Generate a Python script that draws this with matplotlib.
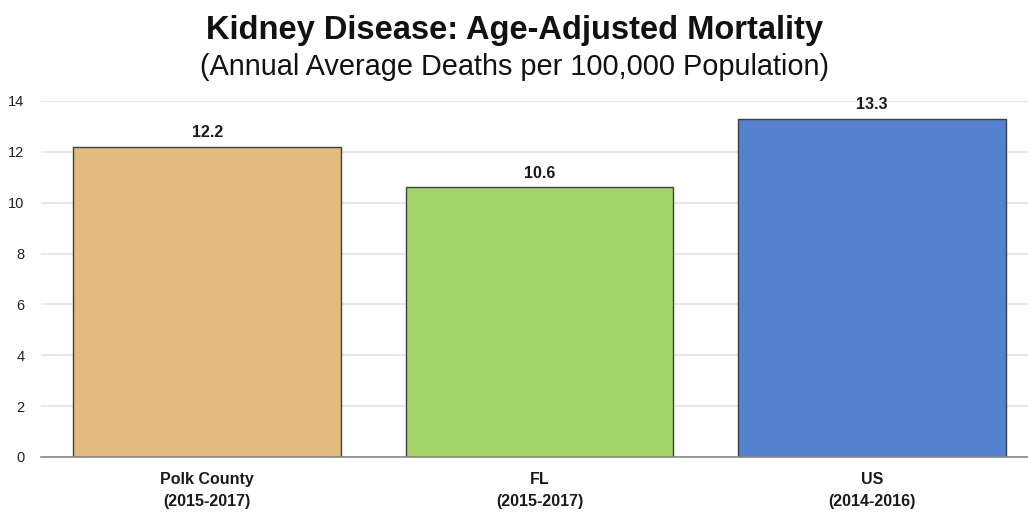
import matplotlib
matplotlib.use("Agg")
import matplotlib.pyplot as plt

categories = ["Polk County\n(2015-2017)", "FL\n(2015-2017)", "US\n(2014-2016)"]
values = [12.2, 10.6, 13.3]
colors = ["#E4BB7E", "#A3D468", "#5681D0"]
yticks = [0, 2, 4, 6, 8, 10, 12, 14]

plt.rcParams['font.family'] = ['Liberation Sans', 'DejaVu Sans']

fig = plt.figure(figsize=(10.28, 5.12), dpi=100)
ax = fig.add_axes([41/1028, (512-457)/512, (1028-41)/1028, (457-101)/512])

x = list(range(len(categories)))
ax.bar(x, values, width=0.805, color=colors, edgecolor="#404040", linewidth=1.0, zorder=3)
for xi, v in zip(x, values):
    ax.annotate(f"{v:.1f}", (xi, v), xytext=(0, 5), textcoords="offset points",
                ha="center", va="bottom", fontsize=11.5, fontweight="bold", color="#1a1a1a")

ax.set_xlim(-0.5, 2.469)
ax.set_ylim(0, 14)
ax.set_yticks(yticks)
ax.set_yticklabels([str(t) for t in yticks], fontsize=10.5, color="#222222")
ax.set_xticks(x)
ax.set_xticklabels(categories, fontsize=11.5, fontweight="bold", color="#1a1a1a",
                   linespacing=1.55)
ax.tick_params(axis="both", length=0)
ax.tick_params(axis="y", pad=12)
ax.tick_params(axis="x", pad=11)
ax.grid(axis="y", color="#e3e3e3", linewidth=1.2, zorder=0)
for s in ["top", "right", "left"]:
    ax.spines[s].set_visible(False)
ax.spines["bottom"].set_color("#888888")
ax.spines["bottom"].set_linewidth(1.2)
ax.spines["bottom"].set_zorder(4)

fig.text(0.5, 1 - 30/512, "Kidney Disease: Age-Adjusted Mortality", ha="center", va="center",
         fontsize=23.5, fontweight="bold", color="#111111")
fig.text(0.5, 1 - 67/512, "(Annual Average Deaths per 100,000 Population)", ha="center", va="center",
         fontsize=20.8, color="#111111")

fig.savefig("out.png", dpi=100)
